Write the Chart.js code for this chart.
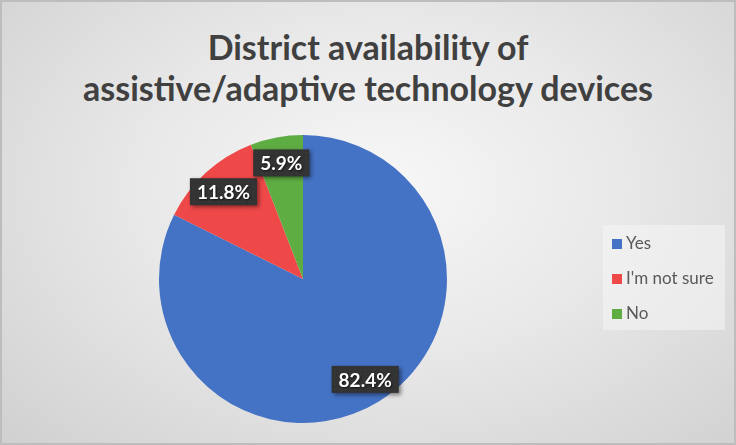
<!DOCTYPE html>
<html>
<head>
<meta charset="utf-8">
<script src="https://cdn.jsdelivr.net/npm/chart.js@4/dist/chart.umd.min.js"></script>
<style>
  html, body { margin: 0; padding: 0; background: #fff; }
  .wrap {
    position: relative;
    width: 736px;
    height: 445px;
    box-sizing: border-box;
    border: 2px solid #bdbdbd;
    background: radial-gradient(ellipse 75% 85% at 52% 42%, #f7f7f7 0%, #e8e8e8 45%, #cfcfcf 100%);
    overflow: hidden;
  }
  .js-title {
    position: absolute;
    left: 0; right: 0; top: 24px;
    text-align: center;
    font-family: Lato, sans-serif;
    font-weight: 700;
    font-size: 34px;
    line-height: 41px;
    color: #404040;
  }
  .js-legend {
    position: absolute;
    left: 601px; top: 223px;
    width: 122px; height: 105px;
    background: rgba(245, 245, 245, 0.55);
    font-family: Lato, sans-serif;
    font-size: 17px;
    color: #595959;
  }
  .js-legend div { position: absolute; left: 9px; height: 18px; line-height: 18px; }
  .js-legend span {
    display: inline-block; width: 10px; height: 10px; margin-right: 4px; vertical-align: 0px;
  }
  canvas { position: absolute; left: -2px; top: -2px; }
</style>
</head>
<body>
<div class="wrap">
  <div class="js-title">District availability of<br>assistive/adaptive technology devices</div>
  <canvas id="pieChart" width="736" height="445"></canvas>
  <div class="js-legend"></div>
</div>
<script>
// DATA
const categories = ["Yes", "I'm not sure", "No"];
const responses = [14, 2, 1];
const sliceColors = ["#4472C4", "#EE4848", "#5EAD43"];

// LEGEND
const jsLegend = document.querySelector(".js-legend");
categories.forEach((label, i) => {
  const row = document.createElement("div");
  row.style.top = (9 + i * 35) + "px";
  row.innerHTML = '<span style="background:' + sliceColors[i] + '"></span>' + label;
  jsLegend.appendChild(row);
});

// PERCENT LABELS
const percentLabels = {
  id: "percentLabels",
  afterDatasetsDraw(chart) {
    const ctx = chart.ctx;
    const total = responses.reduce((a, b) => a + b, 0);
    chart.getDatasetMeta(0).data.forEach((arc, i) => {
      const p = arc.getProps(["x", "y", "startAngle", "endAngle", "outerRadius"], true);
      const mid = (p.startAngle + p.endAngle) / 2;
      const x = p.x + Math.cos(mid) * p.outerRadius * 0.82;
      const y = p.y + Math.sin(mid) * p.outerRadius * 0.82;
      const text = (responses[i] / total * 100).toFixed(1) + "%";
      ctx.save();
      ctx.font = "bold 19px Lato, sans-serif";
      const w = ctx.measureText(text).width + 14;
      const h = 27;
      ctx.shadowColor = "rgba(0,0,0,0.45)";
      ctx.shadowBlur = 4;
      ctx.shadowOffsetX = 2;
      ctx.shadowOffsetY = 2;
      ctx.fillStyle = "#333333";
      ctx.fillRect(x - w / 2, y - h / 2, w, h);
      ctx.shadowColor = "transparent";
      // dotted texture
      ctx.fillStyle = "rgba(255,255,255,0.08)";
      for (let dx = 3; dx < w; dx += 5) {
        for (let dy = 3; dy < h; dy += 5) {
          ctx.fillRect(x - w / 2 + dx, y - h / 2 + dy, 1, 1);
        }
      }
      ctx.shadowColor = "rgba(0,0,0,0.6)";
      ctx.shadowBlur = 2;
      ctx.shadowOffsetX = 1;
      ctx.shadowOffsetY = 1;
      ctx.fillStyle = "#ffffff";
      ctx.textAlign = "center";
      ctx.textBaseline = "middle";
      ctx.fillText(text, x, y + 1);
      ctx.restore();
    });
  }
};

// CHART
let jsChart = document.getElementById("pieChart").getContext("2d");
const chart = new Chart(jsChart, {
  type: "pie",
  data: {
    labels: categories,
    datasets: [{
      data: responses,
      backgroundColor: sliceColors,
      borderWidth: 0
    }]
  },
  options: {
    responsive: false,
    animation: false,
    layout: { padding: { left: 159, right: 289, top: 135, bottom: 22 } },
    plugins: {
      legend: { display: false },
      tooltip: { enabled: false }
    }
  },
  plugins: [percentLabels]
});
</script>
</body>
</html>
